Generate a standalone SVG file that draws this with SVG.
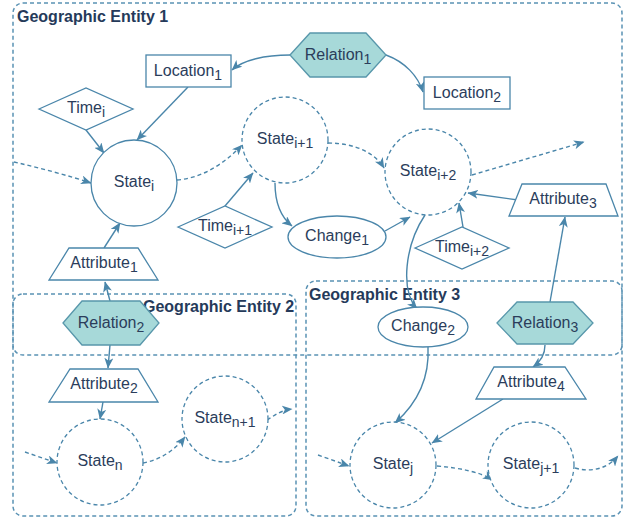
<svg xmlns="http://www.w3.org/2000/svg" width="626" height="519" viewBox="0 0 626 519">
  <defs>
    <marker id="arrow" markerWidth="11" markerHeight="9" refX="10" refY="4.5" orient="auto" markerUnits="userSpaceOnUse">
      <path d="M0,0 L10.5,4.5 L0,9 L2.8,4.5 z" fill="#4a86aa"/>
    </marker>
  </defs>
  <style>
    .box { fill: none; stroke: #5a92b4; stroke-width: 1.5; stroke-dasharray: 4 3; }
    .title { font-family: "Liberation Sans", Arial, sans-serif; font-size: 16px; font-weight: bold; fill: #253a5a; }
    .shape { fill: #ffffff; stroke: #4a86aa; stroke-width: 1.3; }
    .dash { stroke-dasharray: 4 3; }
    .hex { fill: #a7d9d9; stroke: #5897ab; stroke-width: 1.3; }
    .lbl { font-family: "Liberation Sans", Arial, sans-serif; font-size: 16px; fill: #2b3d5b; text-anchor: middle; }
    .sub { font-size: 14px; }
    .edge { fill: none; stroke: #4a86aa; stroke-width: 1.4; marker-end: url(#arrow); }
  </style>

  <!-- entity containers -->
  <g id="entity1">
    <rect class="box" x="13" y="3" width="609" height="352" rx="10"/>
    <text class="title" x="17" y="22">Geographic Entity 1</text>
  </g>
  <g id="entity2">
    <rect class="box" x="13" y="294" width="283" height="222" rx="10"/>
    <text class="title" x="143" y="312">Geographic Entity 2</text>
  </g>
  <g id="entity3">
    <rect class="box" x="306" y="281" width="316" height="235" rx="10"/>
    <text class="title" x="309" y="300">Geographic Entity 3</text>
  </g>

  <!-- connectors -->
  <g id="connectors">
    <path class="edge" d="M290,55 C265,55 243,60 232,70"/>
    <path class="edge" d="M386,55 C405,62 418,76 423,92"/>
    <path class="edge" d="M188,87 L137,140"/>
    <path class="edge" d="M86,130 L104,153"/>
    <path class="edge dash" d="M14,162 C40,168 70,176 91,183"/>
    <path class="edge dash" d="M177,180 C205,178 228,160 242,145"/>
    <path class="edge dash" d="M328,143 C355,143 375,153 384,168"/>
    <path class="edge dash" d="M472,175 L584,142"/>
    <path class="edge" d="M225,206 L253,173"/>
    <path class="edge" d="M275,183 C275,205 282,218 292,226"/>
    <path class="edge" d="M385,231 L410,217"/>
    <path class="edge" d="M463,227 L459,203"/>
    <path class="edge" d="M518,200 L468,193"/>
    <path class="edge" d="M550,302 L565,217"/>
    <path class="edge" d="M425,215 C405,245 400,290 417,309"/>
    <path class="edge" d="M428,347 C430,385 412,408 395,423"/>
    <path class="edge" d="M545,345 C545,355 540,362 533,367"/>
    <path class="edge" d="M503,399 L432,443"/>
    <path class="edge dash" d="M318,455 L349,466"/>
    <path class="edge dash" d="M437,466 C460,468 480,472 493,480"/>
    <path class="edge dash" d="M575,468 C592,473 608,468 618,456"/>
    <path class="edge" d="M110,301 L105,282"/>
    <path class="edge" d="M104,248 L120,223"/>
    <path class="edge" d="M110,345 L108,368"/>
    <path class="edge" d="M103,402 L100,419"/>
    <path class="edge dash" d="M25,452 L57,463"/>
    <path class="edge dash" d="M143,463 C160,460 175,450 185,437"/>
    <path class="edge dash" d="M267,420 C275,415 282,410 292,409"/>
  </g>

  <!-- nodes -->
  <g id="relation1">
    <polygon class="hex" points="290,55 310,33 366,33 386,55 366,77 310,77"/>
    <text class="lbl" x="338" y="60">Relation<tspan class="sub" dy="4">1</tspan></text>
  </g>
  <g id="location1">
    <rect class="shape" x="146" y="55" width="85" height="32"/>
    <text class="lbl" x="188" y="76">Location<tspan class="sub" dy="4">1</tspan></text>
  </g>
  <g id="location2">
    <rect class="shape" x="424" y="77" width="86" height="32"/>
    <text class="lbl" x="467" y="98">Location<tspan class="sub" dy="4">2</tspan></text>
  </g>
  <g id="time-i">
    <polygon class="shape" points="39,109 86,88 133,109 86,130"/>
    <text class="lbl" x="86" y="113">Time<tspan class="sub" dy="4">i</tspan></text>
  </g>
  <g id="state-i">
    <circle class="shape" cx="134" cy="183" r="43"/>
    <text class="lbl" x="134" y="187">State<tspan class="sub" dy="4">i</tspan></text>
  </g>
  <g id="state-i1">
    <circle class="shape dash" cx="285" cy="140" r="43"/>
    <text class="lbl" x="285" y="144">State<tspan class="sub" dy="4">i+1</tspan></text>
  </g>
  <g id="state-i2">
    <circle class="shape dash" cx="428" cy="172" r="43"/>
    <text class="lbl" x="428" y="176">State<tspan class="sub" dy="4">i+2</tspan></text>
  </g>
  <g id="time-i1">
    <polygon class="shape" points="178,227 225,206 272,227 225,248"/>
    <text class="lbl" x="225" y="231">Time<tspan class="sub" dy="4">i+1</tspan></text>
  </g>
  <g id="change1">
    <ellipse class="shape" cx="337" cy="237" rx="49" ry="21"/>
    <text class="lbl" x="337" y="241">Change<tspan class="sub" dy="4">1</tspan></text>
  </g>
  <g id="time-i2">
    <polygon class="shape" points="415,248 462,227 509,248 462,269"/>
    <text class="lbl" x="462" y="252">Time<tspan class="sub" dy="4">i+2</tspan></text>
  </g>
  <g id="attribute3">
    <polygon class="shape" points="522,184 606,184 618,216 509,216"/>
    <text class="lbl" x="563" y="204">Attribute<tspan class="sub" dy="4">3</tspan></text>
  </g>
  <g id="attribute1">
    <polygon class="shape" points="69,248 138,248 158,280 49,280"/>
    <text class="lbl" x="104" y="268">Attribute<tspan class="sub" dy="4">1</tspan></text>
  </g>
  <g id="relation2">
    <polygon class="hex" points="63,323 82,301 140,301 159,323 140,345 82,345"/>
    <text class="lbl" x="111" y="328">Relation<tspan class="sub" dy="4">2</tspan></text>
  </g>
  <g id="attribute2">
    <polygon class="shape" points="70,369 138,369 158,402 49,402"/>
    <text class="lbl" x="104" y="389">Attribute<tspan class="sub" dy="4">2</tspan></text>
  </g>
  <g id="state-n">
    <circle class="shape dash" cx="100" cy="462" r="43"/>
    <text class="lbl" x="100" y="466">State<tspan class="sub" dy="4">n</tspan></text>
  </g>
  <g id="state-n1">
    <circle class="shape dash" cx="225" cy="419" r="43"/>
    <text class="lbl" x="225" y="423">State<tspan class="sub" dy="4">n+1</tspan></text>
  </g>
  <g id="relation3">
    <polygon class="hex" points="497,323 517,302 573,302 593,323 573,344 517,344"/>
    <text class="lbl" x="545" y="328">Relation<tspan class="sub" dy="4">3</tspan></text>
  </g>
  <g id="change2">
    <ellipse class="shape" cx="423" cy="327" rx="45" ry="20"/>
    <text class="lbl" x="423" y="331">Change<tspan class="sub" dy="4">2</tspan></text>
  </g>
  <g id="attribute4">
    <polygon class="shape" points="494,367 565,367 586,399 476,399"/>
    <text class="lbl" x="531" y="387">Attribute<tspan class="sub" dy="4">4</tspan></text>
  </g>
  <g id="state-j">
    <circle class="shape dash" cx="393" cy="465" r="43"/>
    <text class="lbl" x="393" y="469">State<tspan class="sub" dy="4">j</tspan></text>
  </g>
  <g id="state-j1">
    <circle class="shape dash" cx="531" cy="465" r="43"/>
    <text class="lbl" x="531" y="469">State<tspan class="sub" dy="4">j+1</tspan></text>
  </g>
</svg>
